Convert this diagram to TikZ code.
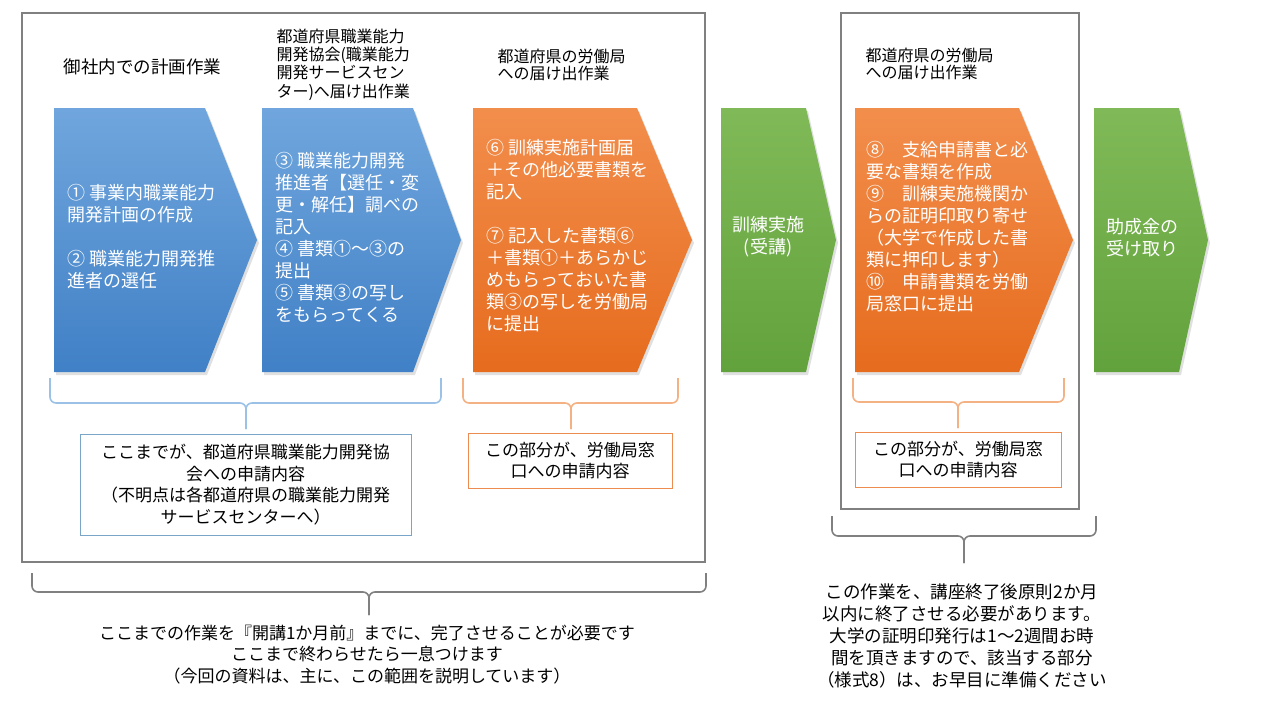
\documentclass[tikz,border=0pt]{standalone}
\usepackage{fontspec}
\setmainfont{Noto Sans CJK JP}
\usetikzlibrary{positioning}

\definecolor{blueTop}{RGB}{112,166,221}
\definecolor{blueBot}{RGB}{64,128,198}
\definecolor{orangeTop}{RGB}{242,142,76}
\definecolor{orangeBot}{RGB}{230,108,30}
\definecolor{greenTop}{RGB}{128,186,88}
\definecolor{greenBot}{RGB}{98,162,60}
\definecolor{frameGray}{RGB}{128,128,128}
\definecolor{braceBlue}{RGB}{155,194,230}
\definecolor{braceOrange}{RGB}{244,177,131}
\definecolor{noteBlue}{RGB}{120,165,200}
\definecolor{noteOrange}{RGB}{237,140,80}

\tikzset{
	head/.style={anchor=west,align=left,font=\fontsize{16}{18.3}\selectfont},
	arrowtext/.style={anchor=west,align=left,text=white,font=\fontsize{18}{22}\selectfont},
	note/.style={draw,line width=1pt,align=center,font=\fontsize{17}{21.5}\selectfont},
	remark/.style={align=center,font=\fontsize{17}{21.7}\selectfont},
	frame/.style={draw=frameGray,line width=2pt},
	brace/.style={line width=1.6pt,rounded corners=6pt},
	shadowed/.style={fill=black,opacity=0.12}
}

\begin{document}
\begin{tikzpicture}[x=1pt,y=-1pt]
	\useasboundingbox (0,0) rectangle (1280,720);
%	\draw[help lines,step=40] (0,0) grid (1280,720);

	% frames
	\draw[frame] (22,13) rectangle (705,562);
	\draw[frame] (841,13) rectangle (1079,509);

	% headings
	\path (60,67) coordinate (plan);
	\path (273,64.5) coordinate (assoc);
	\path (494,65) coordinate (labour1);
	\path (862,64) coordinate (labour2);

	\node[head,font=\fontsize{17.5}{20}\selectfont] (plan_t) at (plan) {御社内での計画作業};
	\node[head] (assoc_t) at (assoc) {都道府県職業能力\\開発協会(職業能力\\開発サービスセン\\ター)へ届け出作業};
	\node[head,font=\fontsize{16}{17}\selectfont] (labour1_t) at (labour1) {都道府県の労働局\\への届け出作業};
	\node[head,font=\fontsize{16}{17}\selectfont] (labour2_t) at (labour2) {都道府県の労働局\\への届け出作業};

	% chevrons
	\fill[shadowed] (56,111) -- (207,111) -- (259,243) -- (207,375) -- (56,375) -- cycle;
	\shade[top color=blueTop,bottom color=blueBot] (54,108) -- (205,108) -- (257,240) -- (205,372) -- (54,372) -- cycle;
	\fill[shadowed] (264,111) -- (415,111) -- (463,243) -- (415,375) -- (264,375) -- cycle;
	\shade[top color=blueTop,bottom color=blueBot] (262,108) -- (413,108) -- (461,240) -- (413,372) -- (262,372) -- cycle;
	\fill[shadowed] (475,111) -- (639,111) -- (694,243) -- (639,375) -- (475,375) -- cycle;
	\shade[top color=orangeTop,bottom color=orangeBot] (473,108) -- (637,108) -- (692,240) -- (637,372) -- (473,372) -- cycle;
	\fill[shadowed] (723,111) -- (808,111) -- (838,243) -- (808,375) -- (723,375) -- cycle;
	\shade[top color=greenTop,bottom color=greenBot] (721,108) -- (806,108) -- (836,240) -- (806,372) -- (721,372) -- cycle;
	\fill[shadowed] (857,111) -- (1021,111) -- (1075,243) -- (1021,375) -- (857,375) -- cycle;
	\shade[top color=orangeTop,bottom color=orangeBot] (855,108) -- (1019,108) -- (1073,240) -- (1019,372) -- (855,372) -- cycle;
	\fill[shadowed] (1096,111) -- (1181,111) -- (1210,243) -- (1181,375) -- (1096,375) -- cycle;
	\shade[top color=greenTop,bottom color=greenBot] (1094,108) -- (1179,108) -- (1208,240) -- (1179,372) -- (1094,372) -- cycle;

	\node[arrowtext] (step1) at (64,237) {① 事業内職業能力\\開発計画の作成\\[22pt]② 職業能力開発推\\進者の選任};
	\node[arrowtext] (step3) at (272,237) {③ 職業能力開発\\推進者【選任・変\\更・解任】調べの\\記入\\④ 書類①～③の\\提出\\⑤ 書類③の写し\\をもらってくる};
	\node[arrowtext] (step6) at (483,236) {⑥ 訓練実施計画届\\＋その他必要書類を\\記入\\[22pt]⑦ 記入した書類⑥\\＋書類①＋あらかじ\\めもらっておいた書\\類③の写しを労働局\\に提出};
	\node[arrowtext,anchor=center,align=center] (training) at (768,237) {訓練実施\\(受講)};
	\node[arrowtext] (step8) at (863,227) {⑧　支給申請書と必\\要な書類を作成\\⑨　訓練実施機関か\\らの証明印取り寄せ\\（大学で作成した書\\類に押印します）\\⑩　申請書類を労働\\局窓口に提出};
	\node[arrowtext] (grant) at (1103,238) {助成金の\\受け取り};

	% braces
	\path (50,378) coordinate (bl_l);
	\path (441,378) coordinate (bl_r);
	\path (246,429) coordinate (bl_tip);
	\draw[brace,braceBlue] (bl_l) -- (50,403) -- (246,403) -- (bl_tip);
	\draw[brace,braceBlue] (bl_r) -- (441,403) -- (246,403) -- (bl_tip);

	\path (463,378) coordinate (or1_l);
	\path (678,378) coordinate (or1_r);
	\path (571,429) coordinate (or1_tip);
	\draw[brace,braceOrange] (or1_l) -- (463,403) -- (571,403) -- (or1_tip);
	\draw[brace,braceOrange] (or1_r) -- (678,403) -- (571,403) -- (or1_tip);

	\path (853,378) coordinate (or2_l);
	\path (1064,378) coordinate (or2_r);
	\path (958,428) coordinate (or2_tip);
	\draw[brace,braceOrange] (or2_l) -- (853,402) -- (958,402) -- (or2_tip);
	\draw[brace,braceOrange] (or2_r) -- (1064,402) -- (958,402) -- (or2_tip);

	\path (32,573) coordinate (gr1_l);
	\path (706,573) coordinate (gr1_r);
	\path (369,615) coordinate (gr1_tip);
	\draw[brace,frameGray] (gr1_l) -- (32,592) -- (369,592) -- (gr1_tip);
	\draw[brace,frameGray] (gr1_r) -- (706,592) -- (369,592) -- (gr1_tip);

	\path (832,516) coordinate (gr2_l);
	\path (1096,516) coordinate (gr2_r);
	\path (964,563) coordinate (gr2_tip);
	\draw[brace,frameGray] (gr2_l) -- (832,536) -- (964,536) -- (gr2_tip);
	\draw[brace,frameGray] (gr2_r) -- (1096,536) -- (964,536) -- (gr2_tip);

	% notes
	\node[note,draw=noteBlue,minimum width=331,minimum height=101] (assoc_note) at (245.5,484.5) {ここまでが、都道府県職業能力開発協\\会への申請内容\\（不明点は各都道府県の職業能力開発\\サービスセンターへ）};
	\node[note,draw=noteOrange,minimum width=204,minimum height=55] (labour1_note) at (570,460.5) {この部分が、労働局窓\\口への申請内容};
	\node[note,draw=noteOrange,minimum width=206,minimum height=55] (labour2_note) at (958,459.5) {この部分が、労働局窓\\口への申請内容};

	\node[remark] (deadline) at (367,654.5) {ここまでの作業を『開講1か月前』までに、完了させることが必要です\\ここまで終わらせたら一息つけます\\（今回の資料は、主に、この範囲を説明しています）};
	\node[remark,font=\fontsize{17.5}{22}\selectfont] (after) at (962,635.5) {この作業を、講座終了後原則2か月\\以内に終了させる必要があります。\\大学の証明印発行は1～2週間お時\\間を頂きますので、該当する部分\\（様式8）は、お早目に準備ください};
\end{tikzpicture}
\end{document}
